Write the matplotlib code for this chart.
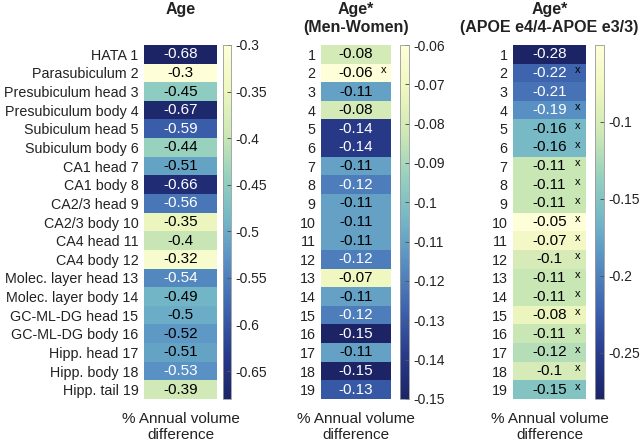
import numpy as np
import matplotlib
matplotlib.use("Agg")
import matplotlib.pyplot as plt
from matplotlib.colors import LinearSegmentedColormap

plt.rcParams['font.family'] = ['Liberation Sans', 'DejaVu Sans']

# data
regions = ["HATA 1", "Parasubiculum 2", "Presubiculum head 3", "Presubiculum body 4",
           "Subiculum head 5", "Subiculum body 6", "CA1 head 7", "CA1 body 8",
           "CA2/3 head 9", "CA2/3 body 10", "CA4 head 11", "CA4 body 12",
           "Molec. layer head 13", "Molec. layer body 14", "GC-ML-DG head 15",
           "GC-ML-DG body 16", "Hipp. head 17", "Hipp. body 18", "Hipp. tail 19"]
row_numbers = [str(i) for i in range(1, 20)]

age = [-0.68, -0.3, -0.45, -0.67, -0.59, -0.44, -0.51, -0.66, -0.56, -0.35,
       -0.4, -0.32, -0.54, -0.49, -0.5, -0.52, -0.51, -0.53, -0.39]
age_sex = [-0.08, -0.06, -0.11, -0.08, -0.14, -0.14, -0.11, -0.12, -0.11, -0.11,
           -0.11, -0.12, -0.07, -0.11, -0.12, -0.15, -0.11, -0.15, -0.13]
age_apoe = [-0.28, -0.22, -0.21, -0.19, -0.16, -0.16, -0.11, -0.11, -0.11, -0.05,
            -0.07, -0.1, -0.11, -0.11, -0.08, -0.11, -0.12, -0.1, -0.15]

# rows flagged with "x"
flag_sex = [2]
flag_apoe = [2, 4, 5, 6, 7, 8, 9, 10, 11, 12, 13, 14, 15, 16, 17, 18, 19]

titles = ["Age", "Age*\n(Men-Women)", "Age*\n(APOE e4/4-APOE e3/3)"]
cb_ticks = [
    [-0.65, -0.6, -0.55, -0.5, -0.45, -0.4, -0.35, -0.3],
    [-0.15, -0.14, -0.13, -0.12, -0.11, -0.1, -0.09, -0.08, -0.07, -0.06],
    [-0.25, -0.2, -0.15, -0.1],
]

# washed-out YlGnBu, dark end first
cmap = LinearSegmentedColormap.from_list('ylgnbu_soft', [
    (0.0, '#1c2466'), (0.12, '#273a8a'), (0.25, '#3d62ad'), (0.4, '#5a93c5'),
    (0.5, '#72b5c7'), (0.62, '#93cfbf'), (0.75, '#cde8b5'), (0.88, '#f0f7bf'),
    (1.0, '#fefed8')])

W, H = 644, 444
fig = plt.figure(figsize=(W / 100, H / 100), dpi=100)

def px_axes(x0, x1, y0, y1):
    return fig.add_axes([x0 / W, 1 - y1 / H, (x1 - x0) / W, (y1 - y0) / H])

panels = [
    (age, regions, [], (144, 217), (223, 231)),
    (age_sex, row_numbers, flag_sex, (321, 391), (400, 409)),
    (age_apoe, row_numbers, flag_apoe, (513, 586), (595, 604)),
]

top, bottom = 45, 399
txt = '#222222'

for i, (vals, labels, flags, hx, cx) in enumerate(panels):
    vals = np.array(vals)
    vmin, vmax = vals.min(), vals.max()
    ax = px_axes(hx[0], hx[1], top, bottom)
    im = ax.imshow(vals[:, None], cmap=cmap, vmin=vmin, vmax=vmax, aspect='auto')
    ax.set_xticks([])
    ax.set_yticks(range(len(labels)))
    ax.set_yticklabels(labels, fontsize=10.3, color=txt)
    ax.tick_params(axis='y', length=0, pad=4)
    for s in ax.spines.values():
        s.set_visible(False)
    for r, v in enumerate(vals):
        frac = (v - vmin) / (vmax - vmin)
        col = 'white' if frac < 0.41 else 'black'
        ax.text(0, r, '%g' % v, ha='center', va='center', fontsize=11, color=col)
    for r in flags:
        ax.text(0.39, r - 1 - 0.15, 'x', ha='center', va='center', fontsize=8, color='black')
    fig.text((hx[0] + hx[1]) / 2 / W, 1 - 2 / H, titles[i], ha='center', va='top',
             fontsize=11.5, fontweight='bold', color=txt, linespacing=1.25)
    ax.set_xlabel('% Annual volume\ndifference', fontsize=11, labelpad=9, color=txt)

    cax = px_axes(cx[0], cx[1], top, bottom)
    cb = fig.colorbar(im, cax=cax)
    cb.set_ticks(cb_ticks[i])
    cb.set_ticklabels(['%g' % t for t in cb_ticks[i]])
    cb.ax.tick_params(labelsize=10, length=3, width=0.7, direction='in', pad=3,
                      color='#555555', labelcolor=txt)
    cb.outline.set_edgecolor('#999999')
    cb.outline.set_linewidth(0.6)

fig.savefig('out.png', dpi=100)
